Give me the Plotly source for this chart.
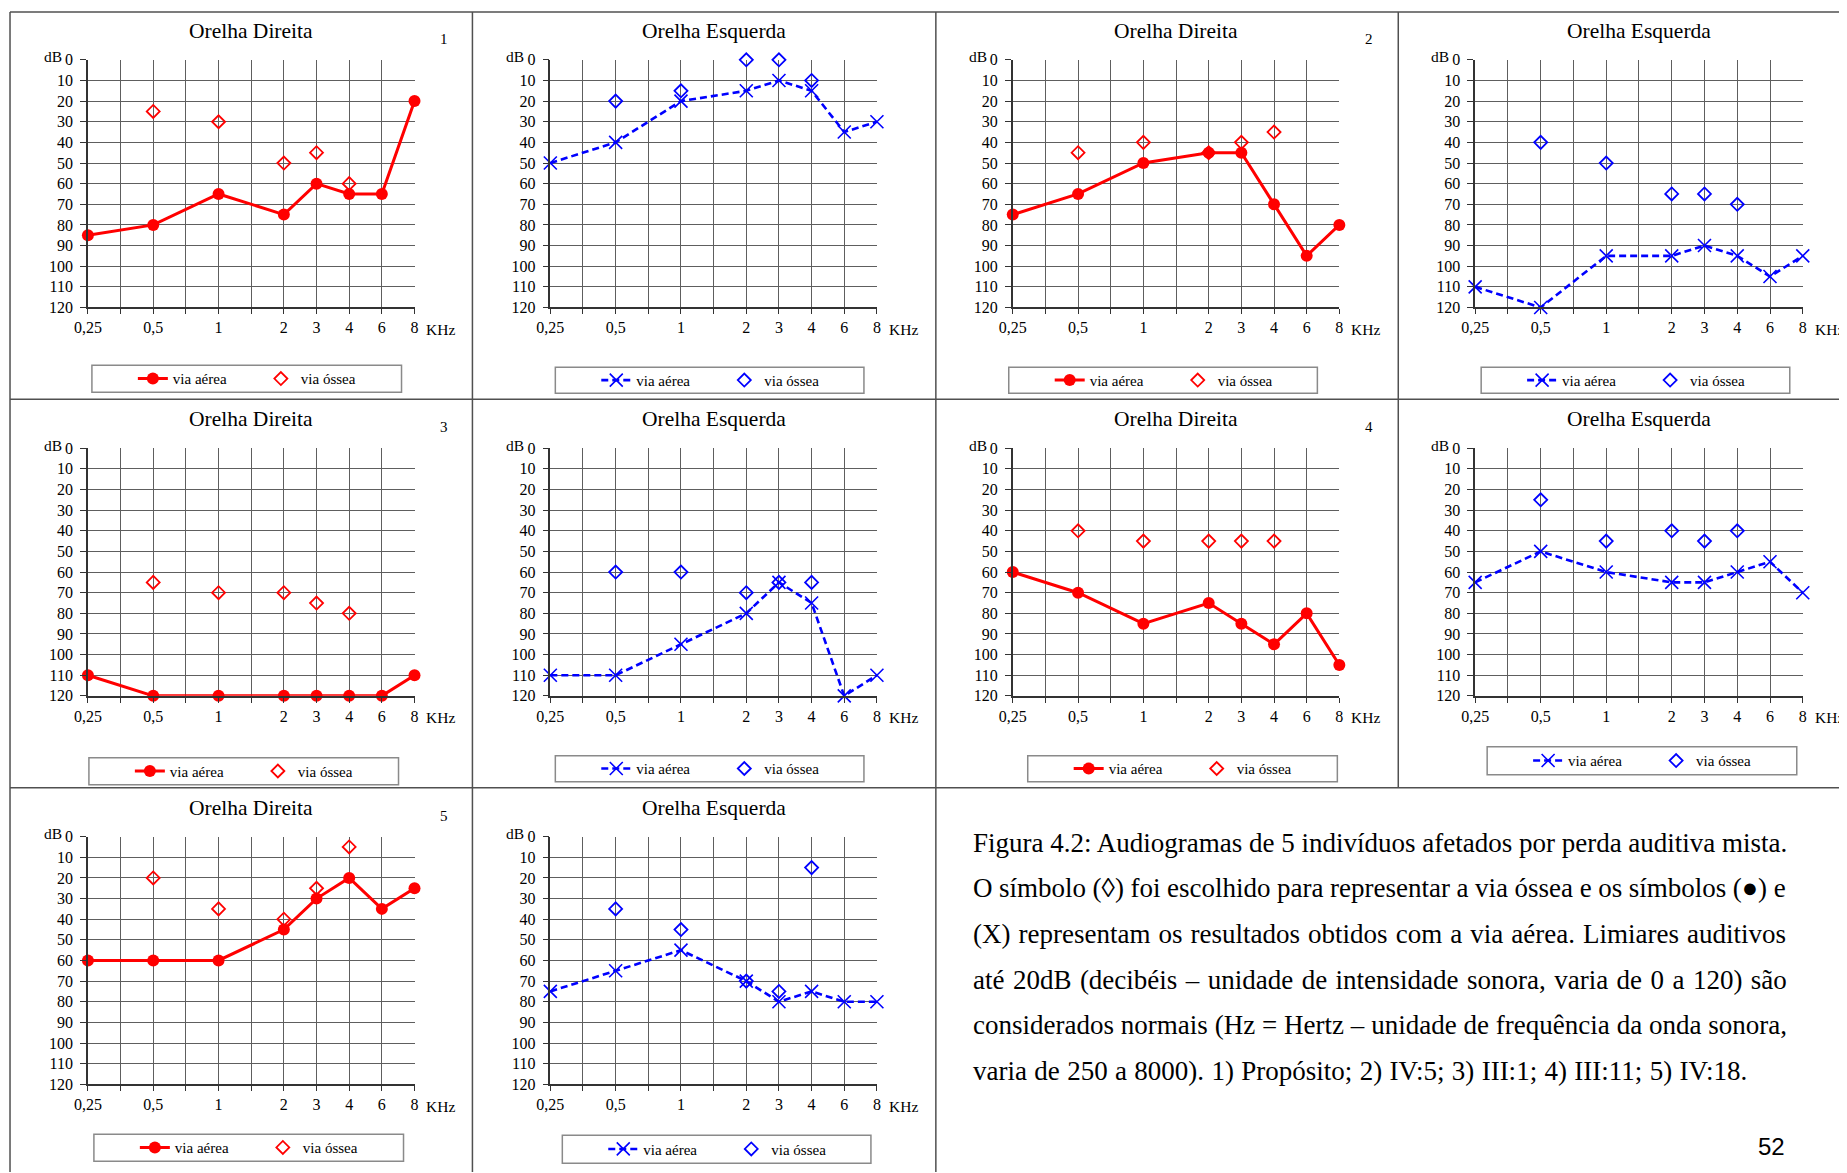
import plotly.graph_objects as go

W, H = 1847, 1173

# The photographed page shows the figure slightly offset and scaled; the
# geometry below is given in target screen pixels and mapped through this.
OX, KX = 20.0, 0.9915
OY, KY = 15.1, 0.987

# ---------------- data ----------------
FREQ_LABELS = ["0,25", "0,5", "1", "2", "3", "4", "6", "8"]
BONE_FREQS = ["0,5", "1", "2", "3", "4"]
# audiogram frequency axis: half-octave slots between 0,25 / 0,5 / 1 / 2 are unlabeled
AXIS_CATEGORIES = ["0,25", "_a", "0,5", "_b", "1", "_c", "2", "3", "4", "6", "8"]
AXIS_TICKTEXT = ["0,25", "", "0,5", "", "1", "", "2", "3", "4", "6", "8"]
DB_TICKS = [0, 10, 20, 30, 40, 50, 60, 70, 80, 90, 100, 110, 120]

air_1R = [85, 80, 65, 75, 60, 65, 65, 20]
bone_1R = [25, 30, 50, 45, 60]
air_1L = [50, 40, 20, 15, 10, 15, 35, 30]
bone_1L = [20, 15, 0, 0, 10]
air_2R = [75, 65, 50, 45, 45, 70, 95, 80]
bone_2R = [45, 40, 45, 40, 35]
air_2L = [110, 120, 95, 95, 90, 95, 105, 95]
bone_2L = [40, 50, 65, 65, 70]
air_3R = [110, 120, 120, 120, 120, 120, 120, 110]
bone_3R = [65, 70, 70, 75, 80]
air_3L = [110, 110, 95, 80, 65, 75, 120, 110]
bone_3L = [60, 60, 70, 65, 65]
air_4R = [60, 70, 85, 75, 85, 95, 80, 105]
bone_4R = [40, 45, 45, 45, 45]
air_4L = [65, 50, 60, 65, 65, 60, 55, 70]
bone_4L = [25, 45, 40, 45, 40]
air_5R = [60, 60, 60, 45, 30, 20, 35, 25]
bone_5R = [20, 35, 40, 25, 5]
air_5L = [75, 65, 55, 70, 80, 75, 80, 80]
bone_5L = [35, 45, 70, 75, 15]

TITLE_R = "Orelha Direita"
TITLE_L = "Orelha Esquerda"
LEG_AIR = "via aérea"
LEG_BONE = "via óssea"

CAPTION = [
    "Figura 4.2: Audiogramas de 5 indivíduos afetados por perda auditiva mista.",
    "O símbolo (◊) foi escolhido para representar a via óssea e os símbolos (●) e",
    "(X) representam os resultados obtidos com a via aérea. Limiares auditivos",
    "até 20dB (decibéis – unidade de intensidade sonora, varia de 0 a 120) são",
    "considerados normais (Hz = Hertz – unidade de frequência da onda sonora,",
    "varia de 250 a 8000). 1) Propósito; 2) IV:5; 3) III:1; 4) III:11; 5) IV:18.",
]
# extra word spacing (px) to imitate the justified paragraph
CAPTION_WORD_SPACING = [0.0, -0.2, 1.3, 1.7, 0.1, 0.6]
PAGE_NUMBER = "52"

panels = [
    dict(side="R", num="1", air=air_1R, bone=bone_1R),
    dict(side="L", num="", air=air_1L, bone=bone_1L),
    dict(side="R", num="2", air=air_2R, bone=bone_2R),
    dict(side="L", num="", air=air_2L, bone=bone_2L),
    dict(side="R", num="3", air=air_3R, bone=bone_3R),
    dict(side="L", num="", air=air_3L, bone=bone_3L),
    dict(side="R", num="4", air=air_4R, bone=bone_4R),
    dict(side="L", num="", air=air_4L, bone=bone_4L),
    dict(side="R", num="5", air=air_5R, bone=bone_5R),
    dict(side="L", num="", air=air_5L, bone=bone_5L),
]

# ---------------- layout geometry (screen pixels) ----------------
COL_X = [(86, 413), (549, 876), (1012, 1339), (1475, 1803)]
ROW_Y = [(59, 307), (448, 696), (837, 1085)]
LEGEND_BOXES = [
    (90, 365, 400, 392), (554, 367, 863, 393), (1008, 367, 1317, 393), (1481, 367, 1790, 393),
    (87, 758, 397, 785), (554, 756, 863, 782), (1027, 756, 1337, 782), (1487, 747, 1797, 775),
    (92, 1135, 402, 1162), (561, 1136, 870, 1164),
]

RED = "#ff0000"
BLUE = "#0000ff"
GRID = "#5e5e5e"
AXIS = "#333333"
TXT = "#000000"
SERIF = "Liberation Serif, Times New Roman, serif"


def px(x):
    return (x - OX) / KX / W


def py(y):
    return 1 - (y - OY) / KY / H


fig = go.Figure()
layout = dict(
    width=W, height=H, margin=dict(l=0, r=0, t=0, b=0),
    paper_bgcolor="white", plot_bgcolor="white",
    font=dict(family=SERIF, color=TXT),
)
annotations = []
shapes = []

for i, p in enumerate(panels):
    n = i + 1
    row, col = divmod(i, 4)
    l, r = COL_X[col]
    t, b = ROW_Y[row]
    xa = "x" if n == 1 else f"x{n}"
    ya = "y" if n == 1 else f"y{n}"
    lg = "legend" if n == 1 else f"legend{n}"
    right = p["side"] == "R"
    color = RED if right else BLUE

    if right:
        air_line = dict(color=RED, width=3)
        air_marker = dict(symbol="circle", size=12, color=RED)
    else:
        air_line = dict(color=BLUE, width=2.6, dash="7px,4px")
        air_marker = dict(symbol="x-thin-open", size=13, color=BLUE, line=dict(width=1.6, color=BLUE))

    fig.add_trace(go.Scatter(
        x=FREQ_LABELS, y=p["air"], mode="lines+markers", name=LEG_AIR,
        line=air_line, marker=air_marker, xaxis=xa, yaxis=ya, legend=lg,
        cliponaxis=False, hoverinfo="x+y",
    ))
    fig.add_trace(go.Scatter(
        x=BONE_FREQS, y=p["bone"], mode="markers", name=LEG_BONE,
        marker=dict(symbol="diamond-open", size=10, color=color, line=dict(width=1.8, color=color)),
        xaxis=xa, yaxis=ya, legend=lg, cliponaxis=False, hoverinfo="x+y",
    ))

    xkey = "xaxis" if n == 1 else f"xaxis{n}"
    ykey = "yaxis" if n == 1 else f"yaxis{n}"
    layout[xkey] = dict(
        domain=[px(l), px(r)], anchor=ya, type="category",
        categoryorder="array", categoryarray=AXIS_CATEGORIES,
        tickmode="array", tickvals=AXIS_CATEGORIES, ticktext=AXIS_TICKTEXT,
        range=[0, 10], showgrid=True, gridcolor=GRID, gridwidth=1,
        showline=True, linecolor=AXIS, linewidth=1.5,
        ticks="outside", ticklen=5, tickcolor=AXIS,
        tickfont=dict(family=SERIF, size=16, color=TXT), zeroline=False,
    )
    layout[ykey] = dict(
        domain=[py(b), py(t)], anchor=xa, range=[120, 0],
        tickmode="array", tickvals=DB_TICKS,
        showgrid=True, gridcolor=GRID, gridwidth=1,
        showline=True, linecolor=AXIS, linewidth=1.5,
        ticks="outside", ticklen=6, tickcolor=AXIS, ticklabelstandoff=4,
        tickfont=dict(family=SERIF, size=16, color=TXT), zeroline=False,
    )

    # title, panel number, unit labels
    annotations.append(dict(text=TITLE_R if right else TITLE_L, x=px((l + r) / 2), y=py(t - 29),
                            xref="paper", yref="paper", showarrow=False, xanchor="center", yanchor="middle",
                            font=dict(family=SERIF, size=21.5, color=TXT)))
    if p["num"]:
        annotations.append(dict(text=p["num"], x=px(r + 30), y=py(t - 21), xref="paper", yref="paper",
                                showarrow=False, xanchor="center", yanchor="middle",
                                font=dict(family=SERIF, size=15, color=TXT)))
    annotations.append(dict(text="dB", x=px(l - 24), y=py(t - 3), xref="paper", yref="paper",
                            showarrow=False, xanchor="right", yanchor="middle",
                            font=dict(family=SERIF, size=15.5, color=TXT)))
    annotations.append(dict(text="KHz", x=px(r + 10), y=py(b + 22), xref="paper", yref="paper",
                            showarrow=False, xanchor="left", yanchor="middle",
                            font=dict(family=SERIF, size=15.5, color=TXT)))

    # legend box + native legend
    bl, bt, br, bb = LEGEND_BOXES[i]
    shapes.append(dict(type="rect", xref="paper", yref="paper", x0=px(bl), x1=px(br), y0=py(bb), y1=py(bt),
                       line=dict(color="#8a8a8a", width=1.5), fillcolor="rgba(0,0,0,0)"))
    layout[lg] = dict(
        orientation="h", x=px(bl + 41), xanchor="left", y=py((bt + bb) / 2), yanchor="middle",
        bgcolor="rgba(0,0,0,0)", borderwidth=0, font=dict(family=SERIF, size=15, color=TXT),
        entrywidth=83, entrywidthmode="pixels", itemwidth=30, tracegroupgap=0,
    )

# page frame lines (screen coordinates)
FRAME = "#505050"
for (x0, y0, x1, y1) in [
    (8, 11, 1847, 11), (8, 399, 1847, 399), (8, 788, 1847, 788),
    (8, 11, 8, 1173), (471, 11, 471, 1173), (935, 11, 935, 1173), (1398, 11, 1398, 788),
]:
    shapes.append(dict(type="line", xref="paper", yref="paper",
                       x0=min(px(x0), 1), x1=min(px(x1), 1),
                       y0=max(py(y0), 0), y1=max(py(y1), 0),
                       line=dict(color=FRAME, width=1.5)))

# caption
for k, line in enumerate(CAPTION):
    ws = CAPTION_WORD_SPACING[k]
    txt = f'<span style="word-spacing:{ws}px">{line}</span>' if ws else line
    annotations.append(dict(text=txt, x=px(970), y=py(843 + k * 45.7), xref="paper", yref="paper",
                            showarrow=False, xanchor="left", yanchor="middle",
                            font=dict(family=SERIF, size=27, color="#000000")))
annotations.append(dict(text=PAGE_NUMBER, x=px(1772), y=py(1147), xref="paper", yref="paper",
                        showarrow=False, xanchor="center", yanchor="middle",
                        font=dict(family="Liberation Sans, Arial, sans-serif", size=24, color="#000000")))

layout["annotations"] = annotations
layout["shapes"] = shapes
fig.update_layout(**layout)
fig.write_html("out.html")
